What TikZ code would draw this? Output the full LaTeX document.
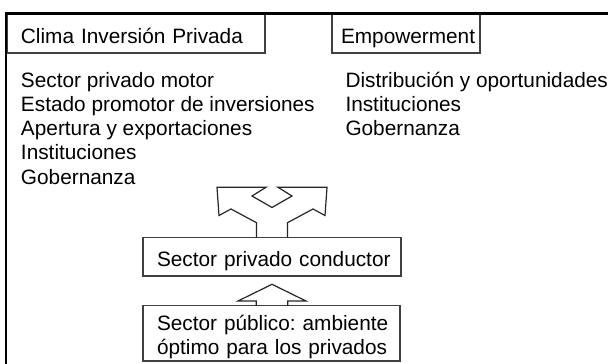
\documentclass[tikz,border=0pt]{standalone}
\usepackage{fontspec}
\setmainfont{Liberation Sans}
\usetikzlibrary{calc}
\frenchspacing
\begin{document}
\begin{tikzpicture}[x=0.75pt,y=-0.75pt,
  every node/.style={font=\fontsize{15.6pt}{18.2pt}\selectfont\frenchspacing, inner sep=0pt, outer sep=0pt},
  box/.style={draw=black!75, line width=0.9pt, fill=white, anchor=north west, align=left, text height=15pt, text depth=0pt},
  frameline/.style={draw=black, line width=1.8pt},
  blockarrow/.style={draw=black!85, line width=0.9pt, line join=miter},
  listtext/.style={anchor=base west, align=left}
]
\useasboundingbox (0,0) rectangle (608,364);
\clip (0,0) rectangle (608,364);

\node[box, minimum width=193.1pt, minimum height=29.25pt, text width=193.1pt] (clima) at (7.5,14) {\hspace*{10.1pt}Clima Inversión Privada};
\node[box, minimum width=111pt, minimum height=29.25pt, text width=111pt] (emp) at (332,14) {\hspace*{6.75pt}Empowerment};

% multi-line nodes without text width are placed by their last line
\node[listtext] (climalist) at (21,184.2) {Sector privado motor\\Estado promotor de inversiones\\Apertura y exportaciones\\Instituciones\\Gobernanza};
\node[listtext] (emplist) at (345.5,135.6) {Distribución y oportunidades\\Instituciones\\Gobernanza};

\node[box, minimum width=193.5pt, minimum height=28.9pt, text width=193.5pt] (cond) at (143,237.5) {\hspace*{10.5pt}Sector privado conductor};
\node[box, minimum width=192.75pt, minimum height=41.5pt, text width=192.75pt, text height=0pt, text depth=5pt] (pub) at (143,305.7) {\hspace*{10.5pt}Sector público: ambiente\\\hspace*{10.5pt}óptimo para los privados};

% split arrow from the conductor box
\coordinate (sa) at (cond.north);
\draw[blockarrow] ($(sa)+(-15.5,0)$) -- ($(sa)+(-15.5,-14.8)$) -- ($(sa)+(-41,-28.5)$) -- ($(sa)+(-53,-22)$) -- ($(sa)+(-55,-50.2)$) -- ($(sa)+(-6,-50.2)$) -- ($(sa)+(-20,-41.5)$) -- ($(sa)+(0,-30)$) -- ($(sa)+(20,-41.5)$) -- ($(sa)+(6,-50.2)$) -- ($(sa)+(55,-50.2)$) -- ($(sa)+(53,-22)$) -- ($(sa)+(41,-28.5)$) -- ($(sa)+(15.5,-14.8)$) -- ($(sa)+(15.5,0)$);

% up arrow from the public sector box to the conductor box
\coordinate (ua) at (cond.south |- pub.north);
\draw[blockarrow] ($(ua)+(-15.8,0)$) -- ($(ua)+(-15.8,-4.7)$) -- ($(ua)+(-34,-4.7)$) -- ($(ua)+(0,-21.4)$) -- ($(ua)+(34,-4.7)$) -- ($(ua)+(15.8,-4.7)$) -- ($(ua)+(15.8,0)$);

% outer frame (right and bottom edges lie outside the picture)
\draw[frameline] (6,13.5) rectangle (640,400);
\end{tikzpicture}
\end{document}
